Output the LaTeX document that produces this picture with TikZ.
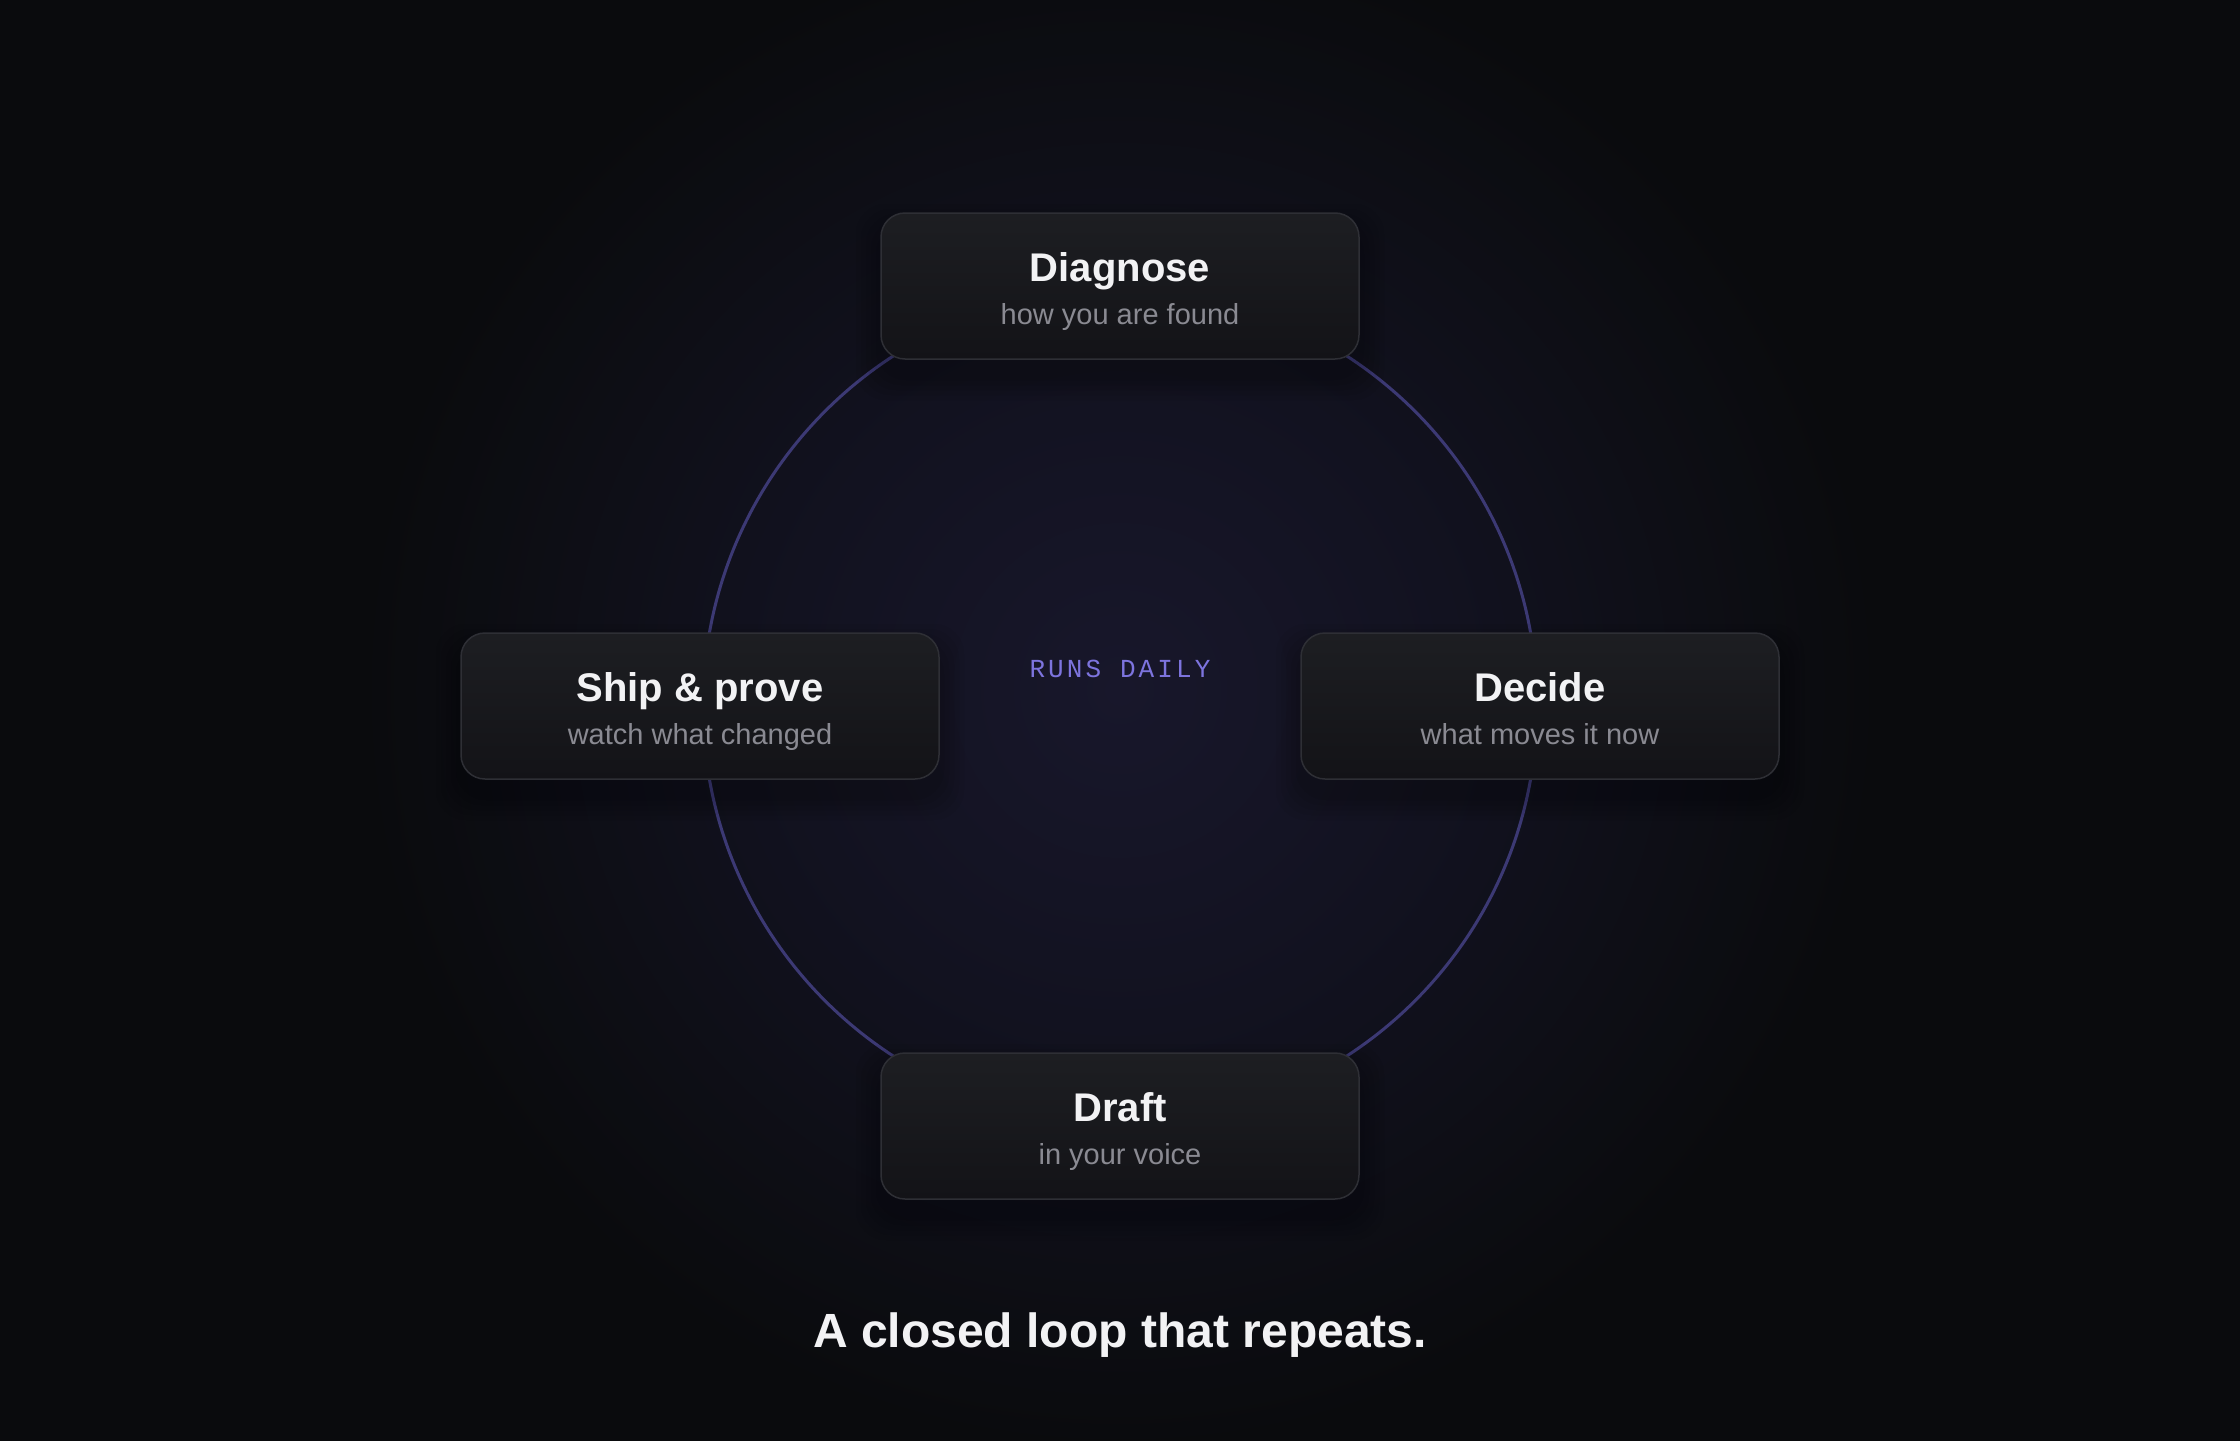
\documentclass[tikz,border=0pt]{standalone}
\usepackage{fontspec}
\setmainfont{Liberation Sans}
\newfontfamily\monofnt[LetterSpace=12]{Liberation Mono}
\usetikzlibrary{positioning}
\definecolor{bgc}{HTML}{0A0B0D}
\definecolor{glowc}{HTML}{18172B}
\definecolor{glowm}{HTML}{121220}
\definecolor{ringc}{HTML}{3C3974}
\definecolor{boxtop}{HTML}{1D1E22}
\definecolor{boxbot}{HTML}{131317}
\definecolor{boxedge}{HTML}{2E2F35}
\definecolor{titlec}{HTML}{F2F2F4}
\definecolor{subc}{HTML}{8A8A92}
\definecolor{accent}{HTML}{7D74DE}
\pgfdeclareradialshading{glowshade}{\pgfpoint{0bp}{0bp}}{color(0bp)=(glowc); color(11bp)=(glowm); color(25bp)=(bgc); color(50bp)=(bgc)}
\tikzset{
  stepbox/.style={rectangle, rounded corners=24pt, minimum width=478pt, minimum height=146pt,
    draw=boxedge, line width=1.5pt, top color=boxtop, bottom color=boxbot, inner sep=0pt},
  shadowbox/.style={rectangle, rounded corners=30pt, minimum width=478pt, minimum height=146pt, fill=black, inner sep=0pt},
  ttl/.style={font=\fontsize{40}{48}\selectfont\bfseries, text=titlec, inner sep=0pt, anchor=center},
  sub/.style={font=\fontsize{29}{34}\selectfont, text=subc, inner sep=0pt, anchor=center},
}
\newcommand{\stepnode}[5]{%
  \foreach \k in {1,...,5}{
    \node[shadowbox, fill opacity=0.045, minimum width=478pt+10pt*\k, minimum height=146pt+10pt*\k] at (#2+0,#3+16) {};
  }
  \node[stepbox] (#1) at (#2,#3) {};
  \node[ttl] (#1-t) at ([yshift=14pt]#1.center) {\strut#4};
  \node[sub] (#1-s) at ([yshift=-32pt]#1.center) {\strut#5};
}
\begin{document}
\begin{tikzpicture}[x=1pt,y=-1pt]
\useasboundingbox (0,0) rectangle (2240,1440);
\fill[bgc] (-20,-20) rectangle (2260,1460);
\begin{scope}
\clip (-20,-20) rectangle (2260,1460);
\shade[shading=glowshade] (1120,690) circle (760pt);
\end{scope}
\node[circle, draw=ringc, line width=3pt, minimum size=834pt, inner sep=0pt] (loop) at (1120,706) {};
\node[font=\fontsize{26}{30}\selectfont\monofnt, text=accent, inner sep=0pt] (center) at (1120,669) {RUNS DAILY};
\stepnode{diag}{1120}{286}{Diagnose}{how you are found}
\stepnode{ship}{700}{706}{Ship \& prove}{watch what changed}
\stepnode{decide}{1540}{706}{Decide}{what moves it now}
\stepnode{draft}{1120}{1126}{Draft}{in your voice}
\node[font=\fontsize{48}{56}\selectfont\bfseries, text=titlec, inner sep=0pt] (caption) at (1120,1336) {\strut A closed loop that repeats.};
\end{tikzpicture}
\end{document}
